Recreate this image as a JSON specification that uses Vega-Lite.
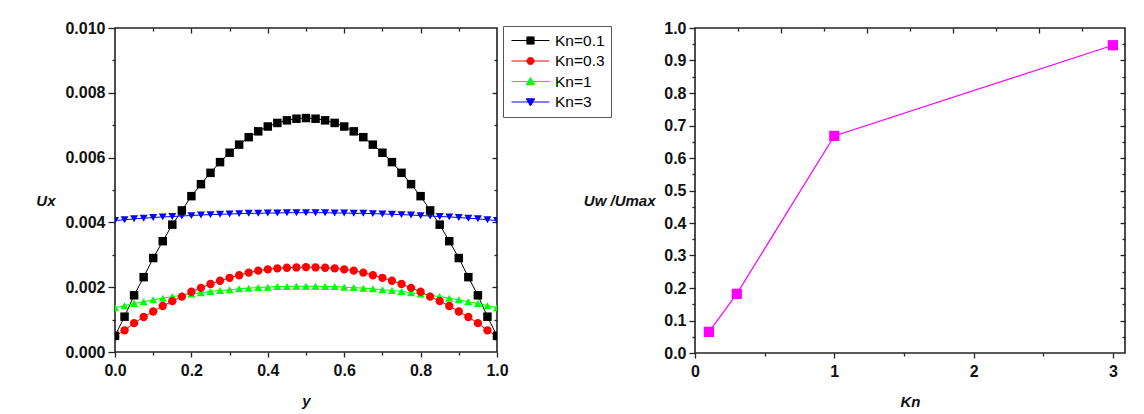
{
  "$schema": "https://vega.github.io/schema/vega-lite/v6.json",
  "background": "#ffffff",
  "padding": {"left": 35, "top": 19, "right": 5, "bottom": 5},
  "config": {
    "view": {"stroke": "#222222", "strokeWidth": 1.6},
    "font": "Liberation Sans",
    "axis": {
      "grid": false,
      "domain": false,
      "labelFont": "Liberation Sans",
      "labelFontWeight": "bold",
      "labelFontSize": 16,
      "labelColor": "#111111",
      "labelFlush": false,
      "labelOverlap": false,
      "tickColor": "#222222",
      "tickWidth": 1.3,
      "titleFont": "Liberation Sans",
      "titleFontSize": 15,
      "titleFontWeight": "bold",
      "titleFontStyle": "italic",
      "titleColor": "#111111"
    }
  },
  "datasets": {
    "profiles": [
      {"y": 0, "k01": 0.0005, "k03": 0.00048, "k1": 0.00137, "k3": 0.00406},
      {"y": 0.025, "k01": 0.00109, "k03": 0.00067, "k1": 0.00143, "k3": 0.00408},
      {"y": 0.05, "k01": 0.00175, "k03": 0.00089, "k1": 0.0015, "k3": 0.00411},
      {"y": 0.075, "k01": 0.00231, "k03": 0.00108, "k1": 0.00155, "k3": 0.00413},
      {"y": 0.1, "k01": 0.0029, "k03": 0.00125, "k1": 0.00161, "k3": 0.00415},
      {"y": 0.125, "k01": 0.00342, "k03": 0.00142, "k1": 0.00166, "k3": 0.00417},
      {"y": 0.15, "k01": 0.00393, "k03": 0.00157, "k1": 0.00171, "k3": 0.00418},
      {"y": 0.175, "k01": 0.00437, "k03": 0.00171, "k1": 0.00175, "k3": 0.0042},
      {"y": 0.2, "k01": 0.00481, "k03": 0.00186, "k1": 0.00179, "k3": 0.00421},
      {"y": 0.225, "k01": 0.00518, "k03": 0.00198, "k1": 0.00183, "k3": 0.00423},
      {"y": 0.25, "k01": 0.00553, "k03": 0.0021, "k1": 0.00187, "k3": 0.00424},
      {"y": 0.275, "k01": 0.00586, "k03": 0.0022, "k1": 0.0019, "k3": 0.00425},
      {"y": 0.3, "k01": 0.00615, "k03": 0.00229, "k1": 0.00192, "k3": 0.00426},
      {"y": 0.325, "k01": 0.0064, "k03": 0.00237, "k1": 0.00195, "k3": 0.00427},
      {"y": 0.35, "k01": 0.00663, "k03": 0.00245, "k1": 0.00197, "k3": 0.00428},
      {"y": 0.375, "k01": 0.00681, "k03": 0.00251, "k1": 0.00199, "k3": 0.00428},
      {"y": 0.4, "k01": 0.00696, "k03": 0.00255, "k1": 0.002, "k3": 0.00429},
      {"y": 0.425, "k01": 0.00707, "k03": 0.00258, "k1": 0.00202, "k3": 0.00429},
      {"y": 0.45, "k01": 0.00715, "k03": 0.0026, "k1": 0.00202, "k3": 0.0043},
      {"y": 0.475, "k01": 0.0072, "k03": 0.00261, "k1": 0.00203, "k3": 0.0043},
      {"y": 0.5, "k01": 0.00722, "k03": 0.00262, "k1": 0.00203, "k3": 0.0043},
      {"y": 0.525, "k01": 0.0072, "k03": 0.00261, "k1": 0.00203, "k3": 0.0043},
      {"y": 0.55, "k01": 0.00715, "k03": 0.0026, "k1": 0.00202, "k3": 0.0043},
      {"y": 0.575, "k01": 0.00707, "k03": 0.00258, "k1": 0.00202, "k3": 0.00429},
      {"y": 0.6, "k01": 0.00696, "k03": 0.00255, "k1": 0.002, "k3": 0.00429},
      {"y": 0.625, "k01": 0.00681, "k03": 0.00251, "k1": 0.00199, "k3": 0.00428},
      {"y": 0.65, "k01": 0.00663, "k03": 0.00245, "k1": 0.00197, "k3": 0.00428},
      {"y": 0.675, "k01": 0.0064, "k03": 0.00237, "k1": 0.00195, "k3": 0.00427},
      {"y": 0.7, "k01": 0.00615, "k03": 0.00229, "k1": 0.00192, "k3": 0.00426},
      {"y": 0.725, "k01": 0.00586, "k03": 0.0022, "k1": 0.0019, "k3": 0.00425},
      {"y": 0.75, "k01": 0.00553, "k03": 0.0021, "k1": 0.00187, "k3": 0.00424},
      {"y": 0.775, "k01": 0.00518, "k03": 0.00198, "k1": 0.00183, "k3": 0.00423},
      {"y": 0.8, "k01": 0.00481, "k03": 0.00186, "k1": 0.00179, "k3": 0.00421},
      {"y": 0.825, "k01": 0.00437, "k03": 0.00171, "k1": 0.00175, "k3": 0.0042},
      {"y": 0.85, "k01": 0.00393, "k03": 0.00157, "k1": 0.00171, "k3": 0.00418},
      {"y": 0.875, "k01": 0.00342, "k03": 0.00142, "k1": 0.00166, "k3": 0.00417},
      {"y": 0.9, "k01": 0.0029, "k03": 0.00125, "k1": 0.00161, "k3": 0.00415},
      {"y": 0.925, "k01": 0.00231, "k03": 0.00108, "k1": 0.00155, "k3": 0.00413},
      {"y": 0.95, "k01": 0.00175, "k03": 0.00089, "k1": 0.0015, "k3": 0.00411},
      {"y": 0.975, "k01": 0.00109, "k03": 0.00067, "k1": 0.00143, "k3": 0.00408},
      {"y": 1, "k01": 0.0005, "k03": 0.00048, "k1": 0.00137, "k3": 0.00406}
    ],
    "ratio": [
      {"kn": 0.1, "ratio": 0.065},
      {"kn": 0.3, "ratio": 0.182},
      {"kn": 1, "ratio": 0.668},
      {"kn": 3, "ratio": 0.947}
    ]
  },
  "bounds": "flush",
  "spacing": 198,
  "hconcat": [
    {
      "width": 382,
      "height": 324,
      "data": {"name": "profiles"},
      "transform": [{"fold": ["k01", "k03", "k1", "k3"], "as": ["series", "u"]}],
      "resolve": {
        "scale": {"color": "independent", "fill": "independent", "stroke": "independent", "shape": "independent", "size": "independent"},
        "axis": {"x": "independent", "y": "independent"}
      },
      "layer": [
        {
          "mark": {"type": "line", "strokeWidth": 1, "clip": true},
          "encoding": {
            "x": {
              "field": "y", "type": "quantitative",
              "scale": {"domain": [0, 1], "nice": false, "zero": false},
              "axis": {"orient": "bottom", "values": [0, 0.2, 0.4, 0.6, 0.8, 1], "format": ".1f", "tickSize": 5, "labelPadding": 5,
                       "title": "y", "titleX": 191, "titleY": 53, "titleBaseline": "alphabetic", "titleAlign": "center"}
            },
            "y": {
              "field": "u", "type": "quantitative",
              "scale": {"domain": [0, 0.01], "nice": false, "zero": false},
              "axis": {"orient": "left", "values": [0, 0.002, 0.004, 0.006, 0.008, 0.01], "format": ".3f", "tickSize": 7, "labelPadding": 3,
                       "title": "Ux", "titleAngle": 0, "titleAlign": "right", "titleBaseline": "alphabetic", "titleX": -60, "titleY": 177}
            },
            "color": {
              "field": "series", "type": "nominal",
              "scale": {"domain": ["k01", "k03", "k1", "k3"], "range": ["#000000", "#ff0000", "#00ff00", "#0000ff"]},
              "legend": null
            }
          }
        },
        {
          "mark": {"type": "point", "filled": true, "opacity": 1, "clip": true},
          "encoding": {
            "x": {
              "field": "y", "type": "quantitative",
              "axis": {"orient": "bottom", "values": [0.1, 0.3, 0.5, 0.7, 0.9], "tickSize": 3, "labels": false, "title": null}
            },
            "y": {
              "field": "u", "type": "quantitative",
              "axis": {"orient": "left", "values": [0.001, 0.003, 0.005, 0.007, 0.009], "tickSize": 3, "labels": false, "title": null}
            },
            "color": {
              "field": "series", "type": "nominal",
              "scale": {"domain": ["k01", "k03", "k1", "k3"], "range": ["#000000", "#ff0000", "#00ff00", "#0000ff"]},
              "legend": null
            },
            "shape": {
              "field": "series", "type": "nominal",
              "scale": {"domain": ["k01", "k03", "k1", "k3"], "range": ["square", "circle", "triangle-up", "triangle-down"]},
              "legend": null
            },
            "size": {
              "field": "series", "type": "nominal",
              "scale": {"domain": ["k01", "k03", "k1", "k3"], "range": [72, 64, 88, 88]},
              "legend": null
            },
            "order": {"field": "series", "type": "ordinal", "sort": "descending"}
          }
        },
        {
          "transform": [{"filter": "false"}],
          "mark": {"type": "point", "filled": true, "strokeWidth": 1, "opacity": 1},
          "encoding": {
            "x": {
              "field": "y", "type": "quantitative",
              "axis": {"orient": "top", "values": [0.2, 0.4, 0.6, 0.8], "tickSize": -5, "labels": false, "title": null}
            },
            "y": {
              "field": "u", "type": "quantitative",
              "axis": {"orient": "right", "values": [0.002, 0.004, 0.006, 0.008], "tickSize": -5, "labels": false, "title": null}
            },
            "fill": {
              "field": "series", "type": "nominal",
              "scale": {"domain": ["k01", "k03", "k1", "k3"], "range": ["#000000", "#ff0000", "#00ff00", "#0000ff"]},
              "legend": {
                "title": null, "orient": "none", "legendX": 388, "legendY": -2,
                "labelExpr": "datum.label == 'k01' ? 'Kn=0.1' : datum.label == 'k03' ? 'Kn=0.3' : datum.label == 'k1' ? 'Kn=1' : 'Kn=3'",
                "symbolSize": 256, "symbolStrokeWidth": 1, "symbolOpacity": 1, "labelOffset": 29, "rowPadding": 3.5, "padding": 6,
                "strokeColor": "#555555", "fillColor": "#ffffff", "labelFont": "Liberation Sans", "labelFontSize": 15.5, "labelColor": "#000000"
              }
            },
            "stroke": {
              "field": "series", "type": "nominal",
              "scale": {"domain": ["k01", "k03", "k1", "k3"], "range": ["#000000", "#ff0000", "#00ff00", "#0000ff"]},
              "legend": {
                "title": null, "orient": "none", "legendX": 388, "legendY": -2,
                "labelExpr": "datum.label == 'k01' ? 'Kn=0.1' : datum.label == 'k03' ? 'Kn=0.3' : datum.label == 'k1' ? 'Kn=1' : 'Kn=3'",
                "symbolSize": 256, "symbolStrokeWidth": 1, "symbolOpacity": 1, "labelOffset": 29, "rowPadding": 3.5, "padding": 6,
                "strokeColor": "#555555", "fillColor": "#ffffff", "labelFont": "Liberation Sans", "labelFontSize": 15.5, "labelColor": "#000000"
              }
            },
            "shape": {
              "field": "series", "type": "nominal",
              "scale": {
                "domain": ["k01", "k03", "k1", "k3"],
                "range": [
                  "M-0.75,0H4M1.175,-0.45H2.075V0.45H1.175Z",
                  "M-0.75,0H4M1.175,0A0.45,0.45 0 1,0 2.075,0A0.45,0.45 0 1,0 1.175,0Z",
                  "M-0.75,0H4M1.625,-0.5L2.15,0.4L1.1,0.4Z",
                  "M-0.75,0H4M1.625,0.5L2.15,-0.4L1.1,-0.4Z"
                ]
              },
              "legend": {
                "title": null, "orient": "none", "legendX": 388, "legendY": -2,
                "labelExpr": "datum.label == 'k01' ? 'Kn=0.1' : datum.label == 'k03' ? 'Kn=0.3' : datum.label == 'k1' ? 'Kn=1' : 'Kn=3'",
                "symbolSize": 256, "symbolStrokeWidth": 1, "symbolOpacity": 1, "labelOffset": 29, "rowPadding": 3.5, "padding": 6,
                "strokeColor": "#555555", "fillColor": "#ffffff", "labelFont": "Liberation Sans", "labelFontSize": 15.5, "labelColor": "#000000"
              }
            }
          }
        },
        {
          "transform": [{"filter": "false"}],
          "mark": {"type": "point", "opacity": 0},
          "encoding": {
            "x": {
              "field": "y", "type": "quantitative",
              "axis": {"orient": "top", "values": [0.1, 0.3, 0.5, 0.7, 0.9], "tickSize": -3, "labels": false, "title": null}
            },
            "y": {
              "field": "u", "type": "quantitative",
              "axis": {"orient": "right", "values": [0.001, 0.003, 0.005, 0.007, 0.009], "tickSize": -3, "labels": false, "title": null}
            }
          }
        }
      ]
    },
    {
      "width": 430,
      "height": 325,
      "data": {"name": "ratio"},
      "resolve": {"axis": {"x": "independent", "y": "independent"}},
      "layer": [
        {
          "mark": {"type": "line", "color": "#ff00ff", "strokeWidth": 1.2},
          "encoding": {
            "x": {
              "field": "kn", "type": "quantitative",
              "scale": {"domain": [0, 3.087], "nice": false, "zero": false},
              "axis": {"orient": "bottom", "values": [0, 1, 2, 3], "format": "d", "tickSize": 5, "labelPadding": 5,
                       "title": "Kn", "titleX": 215, "titleY": 53, "titleBaseline": "alphabetic", "titleAlign": "center"}
            },
            "y": {
              "field": "ratio", "type": "quantitative",
              "scale": {"domain": [0, 1], "nice": false, "zero": false},
              "axis": {"orient": "left", "values": [0, 0.1, 0.2, 0.3, 0.4, 0.5, 0.6, 0.7, 0.8, 0.9, 1], "format": ".1f", "tickSize": 6, "labelPadding": 3,
                       "title": "Uw /Umax", "titleAngle": 0, "titleAlign": "right", "titleBaseline": "alphabetic", "titleX": -40, "titleY": 177}
            }
          }
        },
        {
          "mark": {"type": "square", "color": "#ff00ff", "filled": true, "size": 105, "opacity": 1},
          "encoding": {
            "x": {
              "field": "kn", "type": "quantitative",
              "axis": {"orient": "bottom", "values": [0.5, 1.5, 2.5], "tickSize": 3, "labels": false, "title": null}
            },
            "y": {
              "field": "ratio", "type": "quantitative",
              "axis": {"orient": "left", "values": [0.05, 0.15, 0.25, 0.35, 0.45, 0.55, 0.65, 0.75, 0.85, 0.95], "tickSize": 3, "labels": false, "title": null}
            }
          }
        },
        {
          "transform": [{"filter": "false"}],
          "mark": {"type": "point", "opacity": 0},
          "encoding": {
            "x": {
              "field": "kn", "type": "quantitative",
              "axis": {"orient": "top", "values": [0.6174, 1.2348, 1.8522, 2.4696], "tickSize": -5, "labels": false, "title": null}
            },
            "y": {
              "field": "ratio", "type": "quantitative",
              "axis": {"orient": "right", "values": [0.1, 0.2, 0.3, 0.4, 0.5, 0.6, 0.7, 0.8, 0.9], "tickSize": -5, "labels": false, "title": null}
            }
          }
        },
        {
          "transform": [{"filter": "false"}],
          "mark": {"type": "point", "opacity": 0},
          "encoding": {
            "x": {
              "field": "kn", "type": "quantitative",
              "axis": {"orient": "top", "values": [0.3087, 0.9261, 1.5435, 2.1609, 2.7783], "tickSize": -3, "labels": false, "title": null}
            },
            "y": {
              "field": "ratio", "type": "quantitative",
              "axis": {"orient": "right", "values": [0.05, 0.15, 0.25, 0.35, 0.45, 0.55, 0.65, 0.75, 0.85, 0.95], "tickSize": -3, "labels": false, "title": null}
            }
          }
        }
      ]
    }
  ]
}
